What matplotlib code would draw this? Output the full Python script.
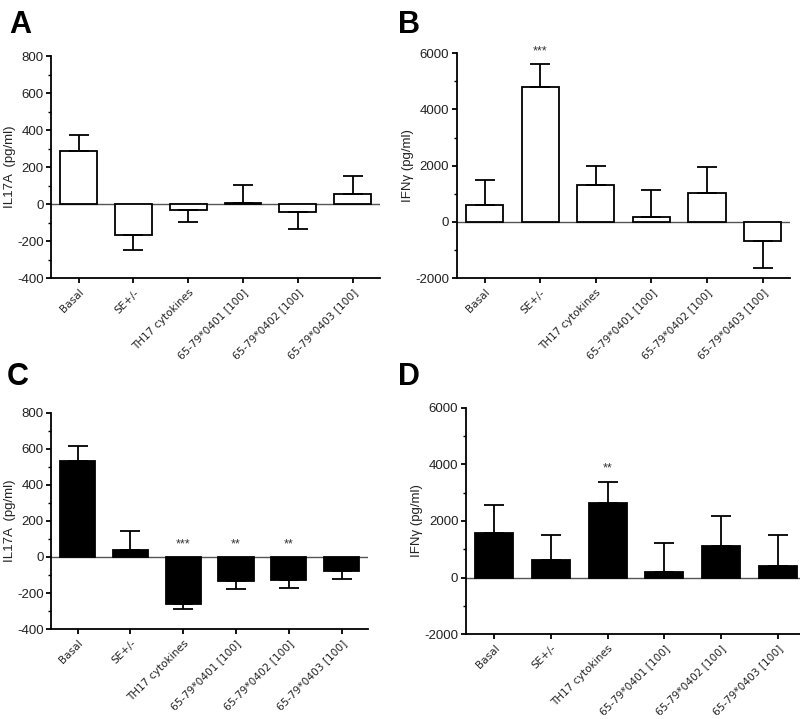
import numpy as np
import matplotlib
matplotlib.use("Agg")
import matplotlib.pyplot as plt
from matplotlib.ticker import MultipleLocator

plt.rcParams['font.family'] = ['Liberation Sans', 'DejaVu Sans']
plt.rcParams['axes.unicode_minus'] = False

categories = ["Basal", "SE+/-", "TH17 cytokines",
              "65-79*0401 [100]", "65-79*0402 [100]", "65-79*0403 [100]"]

# panel A: IL17A, white bars
il17a_a = [285, -165, -30, 8, -40, 55]
il17a_a_sem = [90, 80, 65, 97, 95, 95]
# panel B: IFNg, white bars
ifng_b = [600, 4800, 1320, 170, 1020, -680]
ifng_b_sem = [900, 800, 680, 950, 940, 970]
stars_b = ["", "***", "", "", "", ""]
# panel C: IL17A, black bars
il17a_c = [530, 40, -260, -135, -128, -78]
il17a_c_sem = [85, 105, 30, 40, 42, 42]
stars_c = ["", "", "***", "**", "**", ""]
# panel D: IFNg, black bars
ifng_d = [1570, 625, 2640, 190, 1105, 425]
ifng_d_sem = [975, 895, 750, 1045, 1075, 1070]
stars_d = ["", "", "**", "", "", ""]

panels = [
    # letter, values, sem, stars, color, ylabel, ylim, major, minor, rect, letter pos
    ("A", il17a_a, il17a_a_sem, None, "white", "IL17A  (pg/ml)", (-400, 800), 200, 100,
     [0.064, 0.613, 0.411, 0.309], (0.012, 0.965)),
    ("B", ifng_b, ifng_b_sem, stars_b, "white", "IFN\u03b3 (pg/ml)", (-2000, 6000), 2000, 1000,
     [0.571, 0.613, 0.417, 0.313], (0.497, 0.965)),
    ("C", il17a_c, il17a_c_sem, stars_c, "black", "IL17A  (pg/ml)", (-400, 800), 200, 100,
     [0.064, 0.125, 0.396, 0.301], (0.008, 0.475)),
    ("D", ifng_d, ifng_d_sem, stars_d, "black", "IFN\u03b3 (pg/ml)", (-2000, 6000), 2000, 1000,
     [0.5825, 0.118, 0.425, 0.315], (0.497, 0.475)),
]

fig = plt.figure(figsize=(8, 7.19), dpi=100)

for letter, vals, sem, stars, color, ylabel, ylim, major, minor, rect, lpos in panels:
    ax = fig.add_axes(rect)
    x = np.arange(len(categories))
    vals = np.array(vals, dtype=float)
    sem = np.array(sem, dtype=float)
    ax.bar(x, vals, width=0.67, color=color, edgecolor="black", linewidth=1.3, zorder=2)
    lower = np.where(vals < 0, sem, 0)
    upper = np.where(vals >= 0, sem, 0)
    ax.errorbar(x, vals, yerr=[lower, upper], fmt="none", ecolor="black",
                elinewidth=1.3, capsize=7, capthick=1.3, zorder=3)
    ax.axhline(0, color="#555555", linewidth=1.0, zorder=1)
    if stars:
        span = ylim[1] - ylim[0]
        for xi, v, s, st in zip(x, vals, sem, stars):
            if not st:
                continue
            top = max(v + s, 0) if v >= 0 else 0
            ax.text(xi, top + span * 0.03, st, ha="center", va="bottom", fontsize=9,
                    color="#333333")
    ax.set_xlim(-0.5, 5.5)
    ax.set_ylim(*ylim)
    ax.yaxis.set_major_locator(MultipleLocator(major))
    ax.yaxis.set_minor_locator(MultipleLocator(minor))
    ax.set_xticks(x)
    ax.set_xticklabels(categories, rotation=45, ha="right", rotation_mode="anchor",
                       fontsize=7.6, family=["DejaVu Sans"], color="#222222")
    ax.tick_params(axis="y", labelsize=9.5, width=1.3, length=3.5, pad=2, labelcolor="#222222")
    ax.tick_params(axis="y", which="minor", width=1.0, length=2)
    ax.tick_params(axis="x", width=1.3, length=3.5, pad=3)
    ax.set_ylabel(ylabel, fontsize=9.5, labelpad=1, color="#222222")
    for side in ("top", "right"):
        ax.spines[side].set_visible(False)
    for side in ("left", "bottom"):
        ax.spines[side].set_linewidth(1.3)
    fig.text(lpos[0], lpos[1], letter, fontsize=22, fontweight="bold", va="center", ha="left")

fig.savefig("out.png", dpi=100)
